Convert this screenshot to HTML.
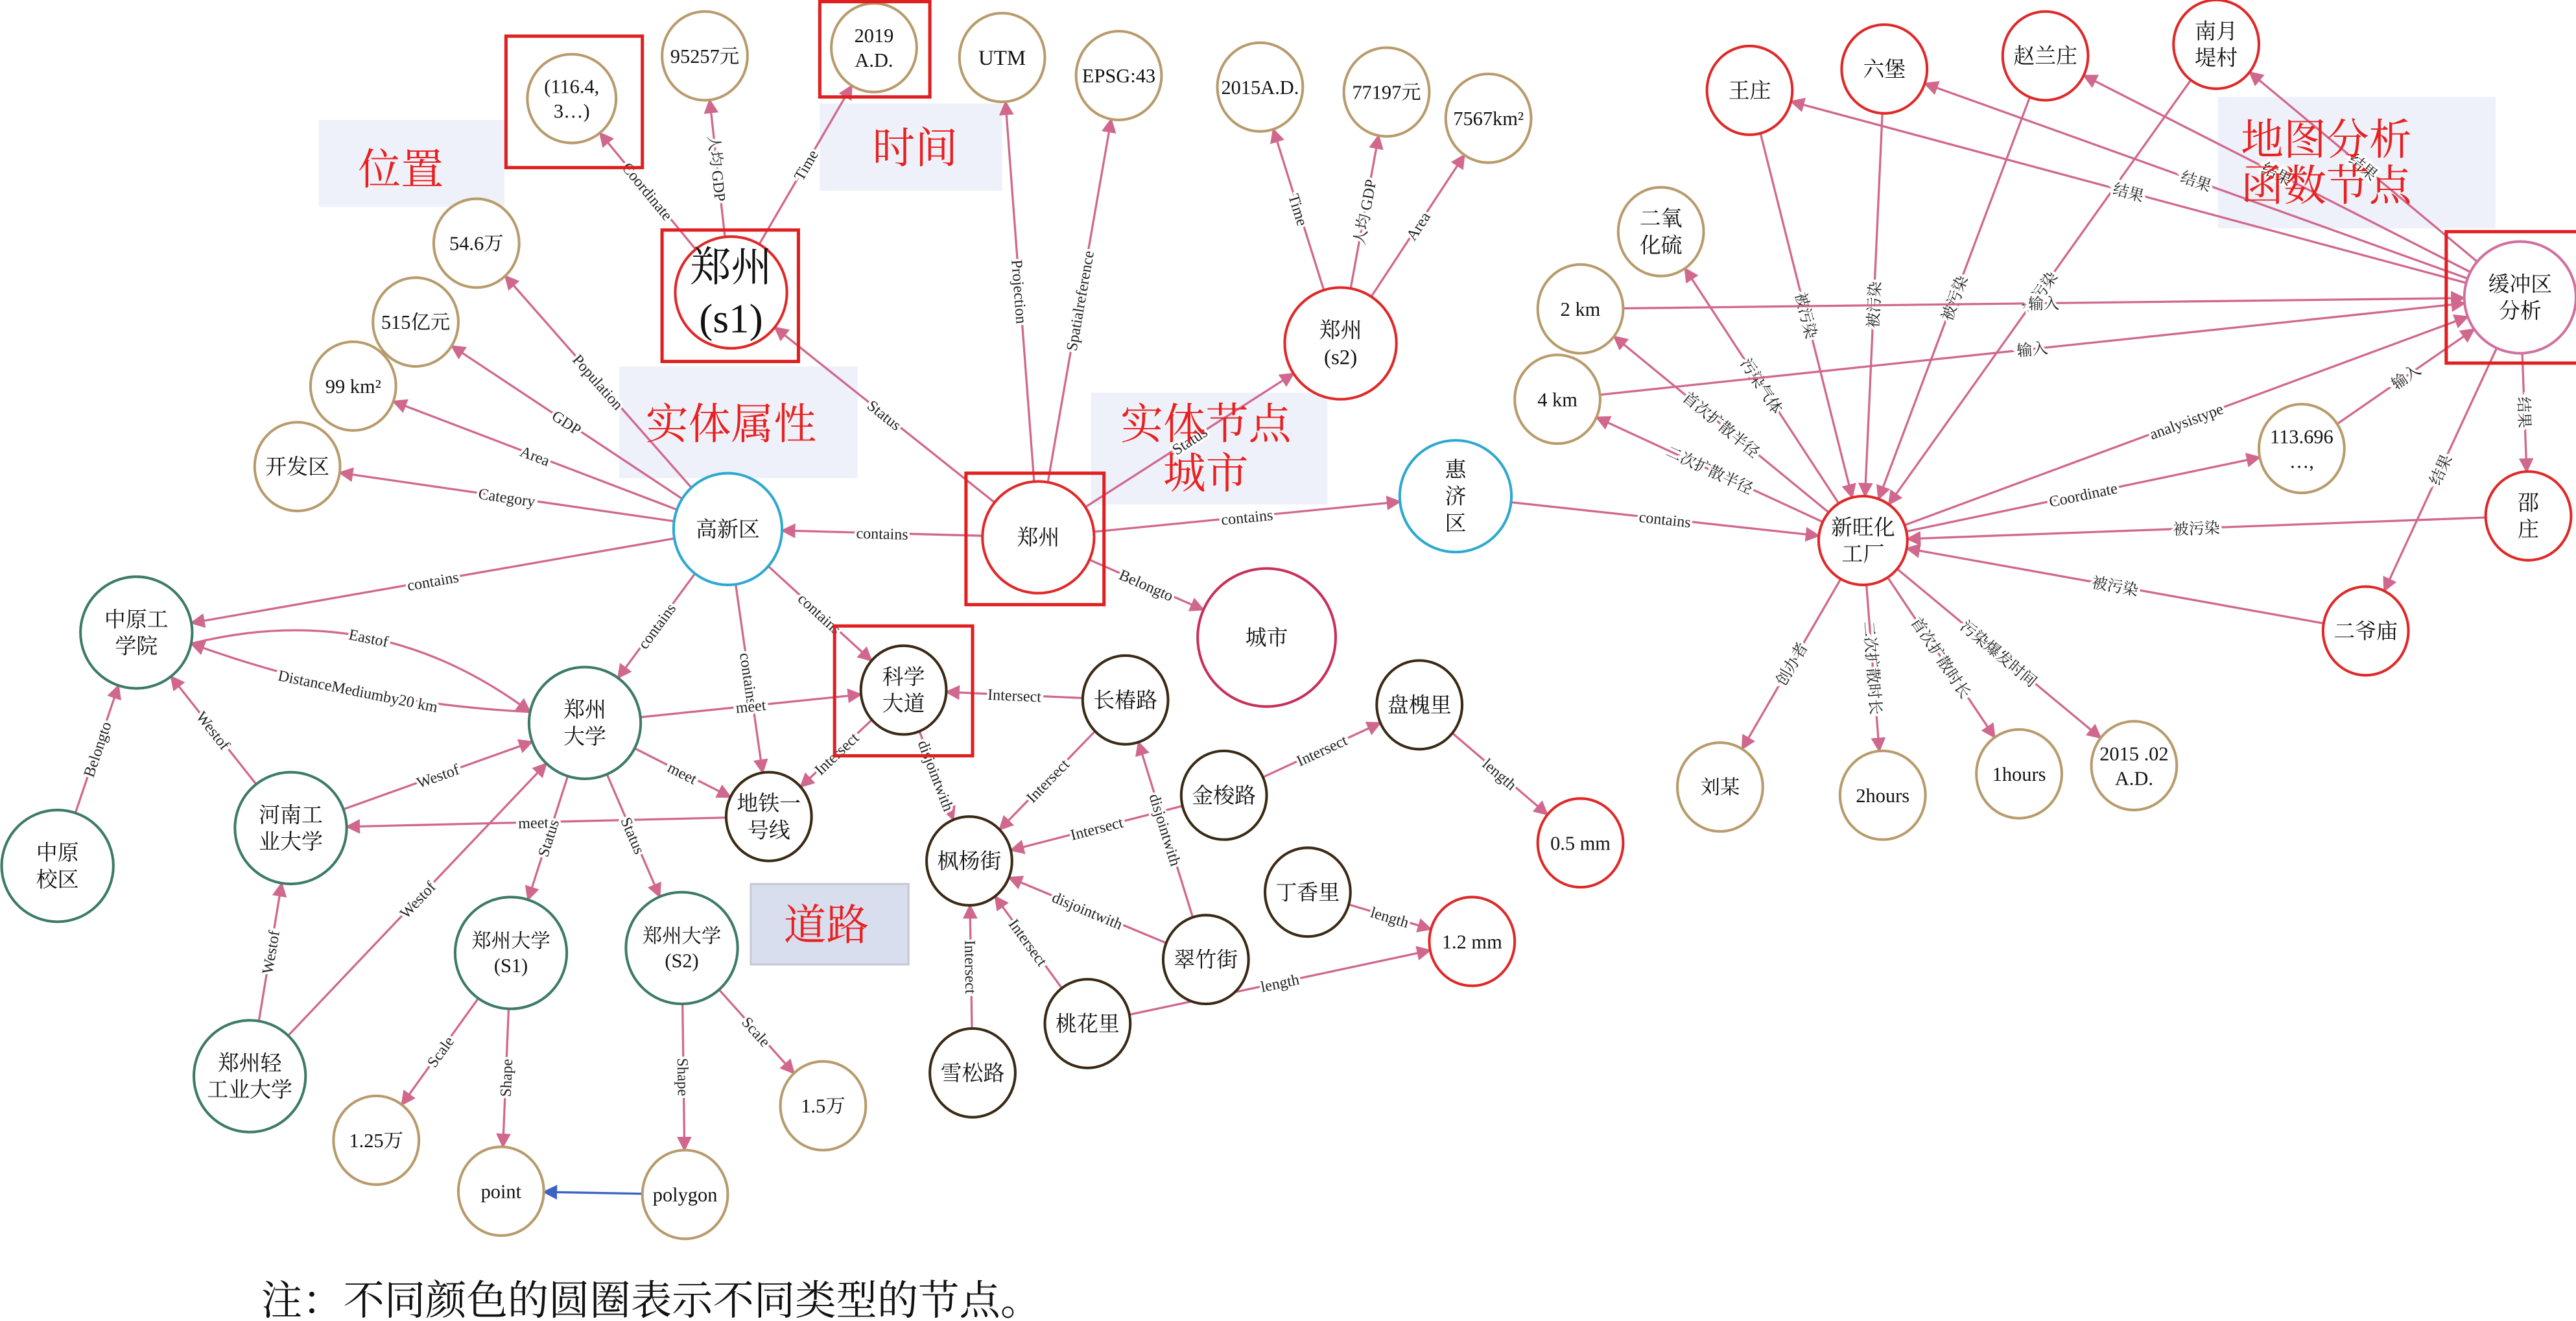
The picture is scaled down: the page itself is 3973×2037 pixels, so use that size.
<!DOCTYPE html>
<html><head><meta charset="utf-8"><style>
html,body{margin:0;padding:0;background:#fff;}
svg{display:block;}
text{font-family:"Liberation Serif","Noto Serif CJK SC",serif;}
</style></head><body>
<svg id="g" xmlns="http://www.w3.org/2000/svg" width="3973" height="2037" viewBox="0 0 1568 804" preserveAspectRatio="none">
<defs>
<marker id="ap" viewBox="0 0 10 10" refX="9" refY="5" markerWidth="9" markerHeight="9" markerUnits="userSpaceOnUse" orient="auto"><path d="M0,0L10,5L0,10z" fill="#d0688e"/></marker>
<marker id="ab" viewBox="0 0 10 10" refX="9" refY="5" markerWidth="9" markerHeight="9" markerUnits="userSpaceOnUse" orient="auto"><path d="M0,0L10,5L0,10z" fill="#3a64c0"/></marker>
</defs>
<rect x="194" y="73" width="113" height="53" fill="#eef1f9"/>
<rect x="499" y="63" width="111" height="53" fill="#eef1f9"/>
<rect x="377" y="223" width="145" height="68" fill="#eef1f9"/>
<rect x="664" y="239" width="144" height="68" fill="#eef1f9"/>
<rect x="457" y="538" width="96" height="49" fill="#d9deee" stroke="#c4c8d4" stroke-width="1.2"/>
<rect x="1350" y="59" width="169" height="80" fill="#eef1f9"/>
<g id="edges"></g>
<g id="nodes"></g>
<g fill="none" stroke="#e02020" stroke-width="2">
<rect x="308" y="22" width="83" height="80"/>
<rect x="499" y="1" width="67" height="58"/>
<rect x="403" y="140" width="83" height="80"/>
<rect x="588" y="288" width="84" height="80"/>
<rect x="508" y="381" width="84" height="79"/>
<rect x="1489" y="141" width="84" height="80"/>
</g>
<g fill="#e82020" font-size="26" text-anchor="middle" style='font-family:"Noto Serif CJK SC",serif'>
<text x="244" y="112">位置</text>
<text x="557" y="99">时间</text>
<text x="445" y="267">实体属性</text>
<text x="734" y="267">实体节点</text>
<text x="734" y="297">城市</text>
<text x="503" y="572">道路</text>
<text x="1416" y="94">地图分析</text>
<text x="1416" y="122">函数节点</text>
</g>
<text x="159" y="800" font-size="25" fill="#111" style='font-family:"Noto Serif CJK SC",serif'>注：不同颜色的圆圈表示不同类型的节点。</text>
</svg>
<script>
const T='#b89b6c',R='#e02828',G='#3d7a68',B='#2ea8d0',D='#3a2a14',P='#d070a0',C='#c8305a';
const N={
c116:[348,60,27,27,T,['(116.4,','3…)'],12],
g95:[429,34,26,27,T,['95257元'],12],
t2019:[532,29,26,27,T,['2019','A.D.'],12],
utm:[610,35,26,27,T,['UTM'],13],
epsg:[681,46,26,27,T,['EPSG:43'],12],
t2015:[767,53,26,27,T,['2015A.D.'],12],
g77:[844,56,26,27,T,['77197元'],12],
a75:[906,72,26,27,T,['7567km²'],12],
s1:[445,178,34,34,R,['郑州','(s1)'],25],
p54:[290,148,26,27,T,['54.6万'],12],
g515:[253,196,26,27,T,['515亿元'],12],
a99:[215,235,26,27,T,['99 km²'],12],
kfq:[181,284,26,27,T,['开发区'],13],
gxq:[443,322,33,34,B,['高新区'],13],
zz:[632,327,34,34,R,['郑州'],13],
s2:[816,209,34,34,R,['郑州','(s2)'],13],
hjq:[886,302,34,34,B,['惠','济','区'],13],
cs:[771,388,42,42,C,['城市'],13],
zygxy:[83,385,34,34,G,['中原工','学院'],13],
zzdx:[356,440,34,34,G,['郑州','大学'],13],
kxdd:[550,420,26,27,D,['科学','大道'],13],
ccl:[685,426,26,27,D,['长椿路'],13],
phl:[864,429,26,27,D,['盘槐里'],13],
jsl:[745,484,26,27,D,['金梭路'],13],
dt:[468,497,26,27,D,['地铁一','号线'],13],
zyxq:[35,527,34,34,G,['中原','校区'],13],
hngy:[177,504,34,34,G,['河南工','业大学'],13],
fyj:[590,524,26,27,D,['枫杨街'],13],
dxl:[796,543,26,27,D,['丁香里'],13],
m05:[962,513,26,27,R,['0.5 mm'],12],
m12:[896,573,26,27,R,['1.2 mm'],12],
czj:[734,584,26,27,D,['翠竹街'],13],
thl:[662,623,26,27,D,['桃花里'],13],
xsl:[592,653,26,27,D,['雪松路'],13],
S1:[311,580,34,34,G,['郑州大学','(S1)'],12],
S2:[415,577,34,34,G,['郑州大学','(S2)'],12],
qg:[152,655,34,34,G,['郑州轻','工业大学'],13],
sc125:[229,694,26,27,T,['1.25万'],12],
sc15:[501,673,26,27,T,['1.5万'],12],
pt:[305,725,26,27,T,['point'],12],
pg:[417,727,26,27,T,['polygon'],12],
wz:[1065,55,26,27,R,['王庄'],13],
lb:[1147,42,26,27,R,['六堡'],13],
zlz:[1245,34,26,27,R,['赵兰庄'],13],
nyd:[1349,27,26,27,R,['南月','堤村'],13],
so2:[1011,141,26,27,T,['二氧','化硫'],13],
k2:[962,188,26,27,T,['2 km'],12],
k4:[948,243,26,27,T,['4 km'],12],
hcq:[1534,181,34,34,P,['缓冲区','分析'],13],
xw:[1134,329,27,27,R,['新旺化','工厂'],13],
c113:[1401,273,26,27,T,['113.696','…,'],12],
sz:[1539,314,26,27,R,['邵','庄'],13],
eym:[1440,384,26,27,R,['二爷庙'],13],
lm:[1047,479,26,27,T,['刘某'],12],
h2:[1146,484,26,27,T,['2hours'],12],
h1:[1229,471,26,27,T,['1hours'],12],
d15:[1299,466,26,27,T,['2015 .02','A.D.'],12]
};
const E=[
['s1','c116','Coordinate'],['s1','g95','人均 GDP'],['s1','t2019','Time'],
['zz','s1','Status'],['zz','utm','Projection'],['zz','epsg','Spatialreference'],['zz','s2','Status'],
['s2','t2015','Time'],['s2','g77','人均 GDP'],['s2','a75','Area'],
['zz','gxq','contains'],['zz','hjq','contains'],['zz','cs','Belongto'],
['gxq','p54','Population'],['gxq','g515','GDP'],['gxq','a99','Area'],['gxq','kfq','Category'],
['gxq','zygxy','contains'],['gxq','zzdx','contains'],['gxq','dt','contains'],['gxq','kxdd','contains'],
['zygxy','zzdx','Eastof',-25],['zzdx','zygxy','DistanceMediumby20 km',-8],['zzdx','kxdd','meet'],['zzdx','dt','meet'],
['dt','hngy','meets'],['hngy','zzdx','Westof'],['hngy','zygxy','Westof'],['zyxq','zygxy','Belongto'],
['qg','hngy','Westof'],['qg','zzdx','Westof'],['zzdx','S1','Status'],['zzdx','S2','Status'],
['S1','sc125','Scale'],['S1','pt','Shape'],['S2','pg','Shape'],['S2','sc15','Scale'],['pg','pt','',0,1],
['ccl','kxdd','Intersect'],['kxdd','dt','Intersect'],['kxdd','fyj','disjointwith'],['ccl','fyj','Intersect'],
['jsl','fyj','Intersect'],['jsl','phl','Intersect'],['phl','m05','length'],['czj','ccl','disjointwith'],
['czj','fyj','disjointwith'],['thl','fyj','Intersect'],['xsl','fyj','Intersect'],['dxl','m12','length'],['thl','m12','length'],
['hjq','xw','contains'],['wz','xw','被污染'],['lb','xw','被污染'],['zlz','xw','被污染'],['nyd','xw','被污染'],
['hcq','wz','结果'],['hcq','lb','结果'],['hcq','zlz','结果'],['hcq','nyd','结果'],
['xw','so2','污染气体'],['xw','k2','首次扩散半径'],['xw','k4','二次扩散半径'],['k2','hcq','输入'],['k4','hcq','输入'],
['xw','hcq','analysistype'],['xw','c113','Coordinate'],['c113','hcq','输入'],['hcq','sz','结果'],['hcq','eym','结果'],
['sz','xw','被污染'],['eym','xw','被污染'],
['xw','lm','创办者'],['xw','h2','二次扩散时长'],['xw','h1','首次扩散时长'],['xw','d15','污染爆发时间']
];
const ns='http://www.w3.org/2000/svg';
function el(t,a,p){const e=document.createElementNS(ns,t);for(const k in a)e.setAttribute(k,a[k]);p.appendChild(e);return e;}
const eg=document.getElementById('edges'),ng=document.getElementById('nodes');
function bp(n,dx,dy){const L=Math.hypot(dx,dy);const ux=dx/L,uy=dy/L;const k=1/Math.sqrt((ux/n[2])**2+(uy/n[3])**2);return [n[0]+ux*k,n[1]+uy*k];}
E.forEach(([a,b,l,curv,blue])=>{
 const A=N[a],Bn=N[b];let dx=Bn[0]-A[0],dy=Bn[1]-A[1];
 const p=bp(A,dx,dy),q=bp(Bn,-dx,-dy);
 const col=blue?'#3a64c0':'#d0688e';
 let mx=(p[0]+q[0])/2,my=(p[1]+q[1])/2;
 if(curv){const L=Math.hypot(dx,dy);const cx=mx-dy/L*curv*2,cy=my+dx/L*curv*2;
  el('path',{d:`M${p[0]},${p[1]}Q${cx},${cy} ${q[0]},${q[1]}`,fill:'none',stroke:col,'stroke-width':1.3,'marker-end':'url(#ap)'},eg);
  mx=(mx+cx)/2;my=(my+cy)/2;}
 else el('line',{x1:p[0],y1:p[1],x2:q[0],y2:q[1],stroke:col,'stroke-width':1.3,'marker-end':blue?'url(#ab)':'url(#ap)'},eg);
 if(l){let ang=Math.atan2(dy,dx)*180/Math.PI;if(ang>90)ang-=180;if(ang<-90)ang+=180;
  const t=el('text',{x:mx,y:my+3.5,'font-size':9.5,'text-anchor':'middle',fill:'#222',stroke:'#fff','stroke-width':3,'paint-order':'stroke',transform:`rotate(${ang} ${mx} ${my})`},eg);t.textContent=l;}
});
for(const k in N){const n=N[k];
 el('ellipse',{cx:n[0],cy:n[1],rx:n[2],ry:n[3],fill:'#fff',stroke:n[4],'stroke-width':1.6},ng);
 const ls=n[5],fs=n[6],lh=fs*1.25;const y0=n[1]-(ls.length-1)*lh/2+fs*0.35;
 ls.forEach((s,i)=>{const t=el('text',{x:n[0],y:y0+i*lh,'font-size':fs,'text-anchor':'middle',fill:'#111'},ng);t.textContent=s;});
}
</script>
</body></html>
